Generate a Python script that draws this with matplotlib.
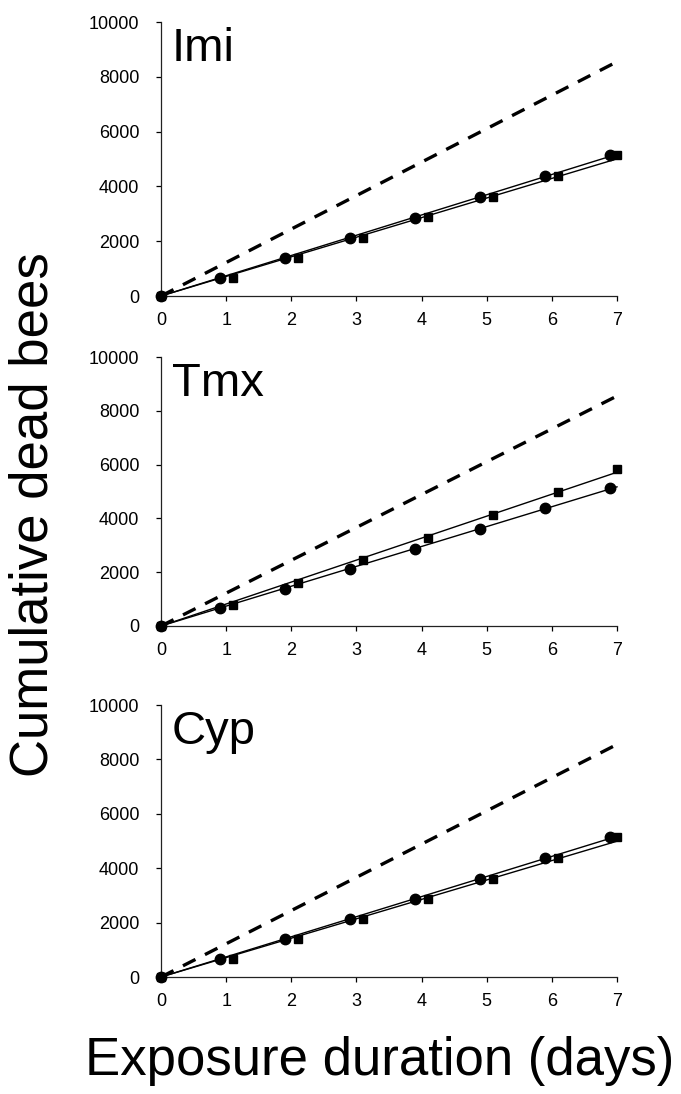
import numpy as np
import matplotlib
matplotlib.use("Agg")
import matplotlib.pyplot as plt

plt.rcParams['font.family'] = ['Liberation Sans', 'DejaVu Sans']

# ---- data ----
panels = ["Imi", "Tmx", "Cyp"]
days = [0, 1, 2, 3, 4, 5, 6, 7]
circle_x = [0, 0.9, 1.9, 2.9, 3.9, 4.9, 5.9, 6.9]
square_x = [0, 1.1, 2.1, 3.1, 4.1, 5.1, 6.1, 7.0]
control = [0, 660, 1390, 2130, 2860, 3600, 4370, 5130]
imi_sq = [0, 660, 1390, 2130, 2870, 3620, 4380, 5140]
tmx_sq = [0, 770, 1610, 2440, 3280, 4140, 5000, 5850]
cyp_sq = [0, 660, 1390, 2130, 2860, 3600, 4370, 5130]
expected_x = [0, 7]
expected_y = [0, 8550]
yticks = [0, 2000, 4000, 6000, 8000, 10000]

square_series = [imi_sq, tmx_sq, cyp_sq]

W, H = 681, 1094
fig = plt.figure(figsize=(W / 100, H / 100), dpi=100)

# axes rectangles in pixel coords: (top, bottom)
rects = [(22, 296), (357, 626), (705, 977)]
left_px, right_px = 161, 617


def origin_fit(x, y):
    x = np.asarray(x, float)
    y = np.asarray(y, float)
    return (x * y).sum() / (x * x).sum()


for name, sq, (top, bot) in zip(panels, square_series, rects):
    ax = fig.add_axes([left_px / W, 1 - bot / H, (right_px - left_px) / W, (bot - top) / H])
    ax.set_xlim(0, 7)
    ax.set_ylim(0, 10000)
    ax.spines['top'].set_visible(False)
    ax.spines['right'].set_visible(False)
    for s in ('left', 'bottom'):
        ax.spines[s].set_linewidth(0.9)
        ax.spines[s].set_color('#222222')
    ax.set_xticks(days)
    ax.set_yticks(yticks)
    ax.tick_params(axis='both', direction='out', length=3.5, width=0.9,
                   labelsize=13, colors='black')
    ax.tick_params(axis='y', pad=12)
    ax.tick_params(axis='x', pad=8)

    # expected (dashed)
    ax.plot(expected_x, expected_y, color='black', lw=2.4, ls=(0, (4.2, 3.2)),
            clip_on=False)

    # fitted lines through origin
    xx = np.array([0, 7.0])
    ax.plot(xx, origin_fit(circle_x, control) * xx, color='black', lw=1.0,
            clip_on=False)
    ax.plot(xx, origin_fit(square_x, sq) * xx, color='black', lw=1.0,
            clip_on=False)

    ax.plot(circle_x, control, 'o', color='black', ms=7.5, clip_on=False,
            zorder=4)
    ax.plot(square_x, sq, 's', color='black', ms=6.2, clip_on=False,
            zorder=4)

    ax.text(0.17, 9800, name, fontsize=34, va='top', ha='left')

fig.text(0.049, 0.53, "Cumulative dead bees", rotation=90, fontsize=38,
         ha='center', va='center')
fig.text(0.557, 0.030, "Exposure duration (days)", fontsize=38,
         ha='center', va='center')

fig.savefig("out.png", dpi=100)
